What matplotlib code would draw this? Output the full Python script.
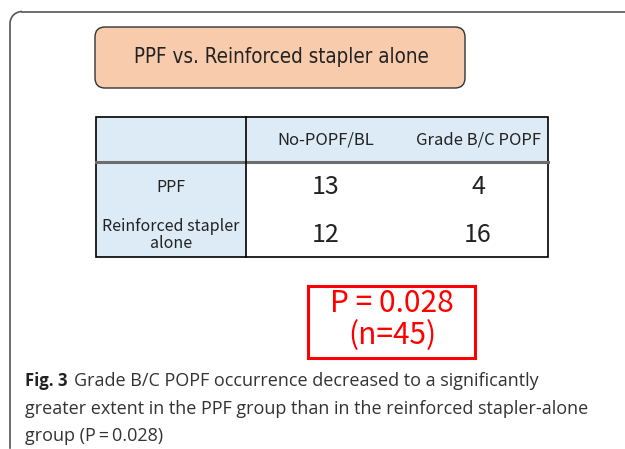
import matplotlib
matplotlib.use("Agg")
import matplotlib.pyplot as plt
from matplotlib.patches import FancyBboxPatch, Rectangle, Arc

# data
title = "PPF vs. Reinforced stapler alone"
col_labels = ["No-POPF/BL", "Grade B/C POPF"]
row_labels = ["PPF", "Reinforced stapler\nalone"]
no_popf = [13, 12]
popf_bc = [4, 16]
p_text = "P = 0.028"
n_text = "(n=45)"
caption_lines = [
    "Grade B/C POPF occurrence decreased to a significantly",
    "greater extent in the PPF group than in the reinforced stapler-alone",
    "group (P\u2009=\u20090.028)",
]

W, H = 625, 449
fig = plt.figure(figsize=(W / 100, H / 100), dpi=100)
ax = fig.add_axes([0, 0, 1, 1])
ax.set_xlim(0, W)
ax.set_ylim(H, 0)
ax.axis("off")

JP = ["Noto Sans CJK JP", "DejaVu Sans"]

# outer frame (open to the right and bottom)
fc = "#555555"
ax.plot([10, 10], [448, 24], color=fc, lw=1.2)
ax.plot([22, 625], [11.5, 11.5], color=fc, lw=1.2)
ax.add_patch(Arc((22, 23.5), 24, 24, theta1=180, theta2=270, color=fc, lw=1.2))

# title box
ax.add_patch(FancyBboxPatch((95, 27), 370, 61, boxstyle="round,pad=0,rounding_size=10",
                            fc="#F8CBAD", ec="#333333", lw=1.0))
ax.text(281, 57, title, ha="center", va="center", fontsize=14.8,
        family="DejaVu Sans", fontstretch="condensed", color="#222222")

# table
x0, x1, x2, x3 = 96, 246, 397, 548
y0, y1, y2 = 117, 162, 257
ax.add_patch(Rectangle((x0, y0), x3 - x0, y1 - y0, fc="#DDEBF7", ec="none"))
ax.add_patch(Rectangle((x0, y1), x1 - x0, y2 - y1, fc="#DDEBF7", ec="none"))
ax.plot([x0, x3], [y1, y1], color="#6d6d6d", lw=2.2)
ax.add_patch(Rectangle((x0, y0), x3 - x0, y2 - y0, fc="none", ec="black", lw=1.2))
ax.plot([x1, x1], [y0, y2], color="black", lw=1.2)

col_x = [326, 478]
row_y = [187, 235]
for cx, lab in zip(col_x, col_labels):
    ax.text(cx, 140, lab, ha="center", va="center", fontsize=12, family=JP,
            color="#222222")
for ry, lab in zip(row_y, row_labels):
    ax.text(171, ry, lab, ha="center", va="center", fontsize=11.5, family=JP,
            color="#222222", linespacing=1.0)
for ry, a, b in zip(row_y, no_popf, popf_bc):
    ax.text(col_x[0], ry, str(a), ha="center", va="center", fontsize=18, family=JP,
            color="#222222")
    ax.text(col_x[1], ry, str(b), ha="center", va="center", fontsize=18, family=JP,
            color="#222222")

# p-value box
ax.add_patch(Rectangle((308, 286), 167, 72, fc="none", ec="#FF0000", lw=2.2))
ax.text(392, 304, p_text, ha="center", va="center", fontsize=21.5, family=JP,
        color="#FF0000")
ax.text(392, 336, n_text, ha="center", va="center", fontsize=21.5, family=JP,
        color="#FF0000")

# caption
cap_font = ["Open Sans", "DejaVu Sans"]
ax.text(25, 381, "Fig. 3", ha="left", va="center", fontsize=12, family=cap_font,
        fontweight="bold", color="#222222")
ax.text(74, 381, caption_lines[0], ha="left", va="center", fontsize=13.0,
        family=cap_font, color="#333333")
ax.text(25, 409, caption_lines[1], ha="left", va="center", fontsize=13.0,
        family=cap_font, color="#333333")
ax.text(25, 436, caption_lines[2], ha="left", va="center", fontsize=13.0,
        family=cap_font, color="#333333")

fig.savefig("out.png", dpi=100)
